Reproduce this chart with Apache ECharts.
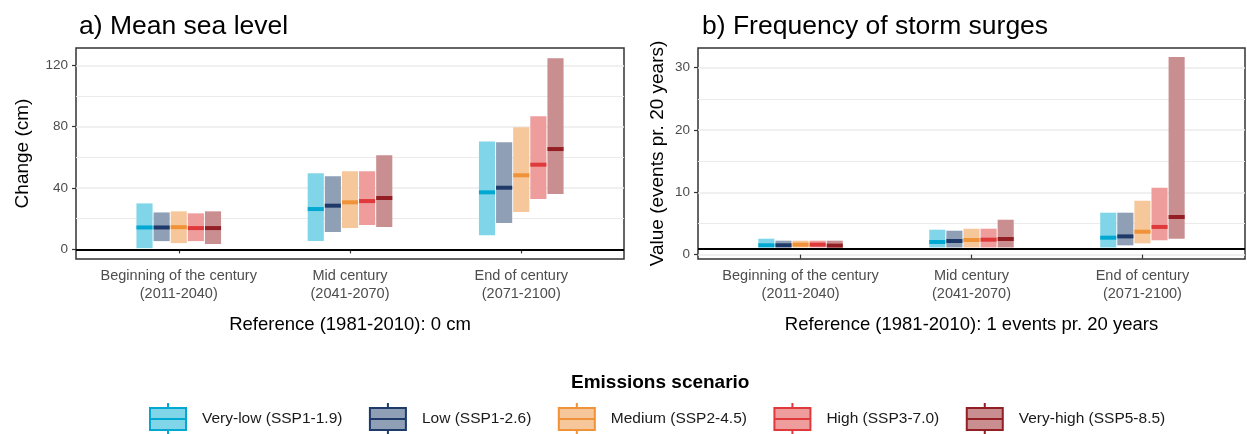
<!DOCTYPE html>
<html>
<head>
<meta charset="utf-8">
<script src="https://cdn.jsdelivr.net/npm/echarts@6/dist/echarts.min.js"></script>
<style>
  html, body { margin: 0; padding: 0; background: #fff; }
  #chart { width: 1247px; height: 434px; }
</style>
</head>
<body>
<div id="chart"></div>
<script>
const periods = ['Beginning of the century\n(2011-2040)', 'Mid century\n(2041-2070)', 'End of century\n(2071-2100)']
const scenarios = ['Very-low (SSP1-1.9)', 'Low (SSP1-2.6)', 'Medium (SSP2-4.5)', 'High (SSP3-7.0)', 'Very-high (SSP5-8.5)']
const fillColors = ['#80d5e9', '#8f9fb6', '#f6c79b', '#ee9c9c', '#c98e90']
const lineColors = ['#00a8d2', '#1d3a6a', '#ef9238', '#e0393b', '#931f24']

// [low, median, high] per period
const seaVeryLow  = [[0.8, 14.3, 30.0], [5.4, 26.3, 49.6], [9.3, 37.2, 70.4]]
const seaLow      = [[5.4, 14.3, 24.1], [11.3, 28.5, 47.6], [17.2, 40.2, 69.8]]
const seaMedium   = [[4.1, 14.5, 24.8], [13.9, 30.7, 50.9], [24.3, 48.3, 79.6]]
const seaHigh     = [[5.4, 13.9, 23.5], [15.9, 31.5, 50.9], [32.8, 55.2, 86.7]]
const seaVeryHigh = [[3.5, 13.9, 24.8], [14.6, 33.5, 61.3], [36.1, 65.4, 124.6]]

const surgeVeryLow  = [[1.15, 1.5, 2.56], [1.15, 2.03, 4.0], [1.15, 2.72, 6.73]]
const surgeLow      = [[1.15, 1.5, 2.24], [1.15, 2.19, 3.84], [1.49, 2.93, 6.73]]
const surgeMedium   = [[1.15, 1.6, 2.24], [1.15, 2.35, 4.16], [1.81, 3.68, 8.65]]
const surgeHigh     = [[1.15, 1.6, 2.24], [1.15, 2.4, 4.16], [2.29, 4.44, 10.73]]
const surgeVeryHigh = [[1.15, 1.45, 2.24], [1.15, 2.51, 5.6], [2.56, 6.04, 31.7]]

const seaData = [seaVeryLow, seaLow, seaMedium, seaHigh, seaVeryHigh]
const surgeData = [surgeVeryLow, surgeLow, surgeMedium, surgeHigh, surgeVeryHigh]

const seaMajorTicks = [0, 40, 80, 120]
const seaMinorTicks = [20, 60, 100]
const surgeMajorTicks = [0, 10, 20, 30]
const surgeMinorTicks = [5, 15, 25]
const referenceValues = [0, 1]

const dodge = [-0.2, -0.1, 0, 0.1, 0.2]
const font = 'Liberation Sans, Arial, sans-serif'

const chart = echarts.init(document.getElementById('chart'))

const renderBar = si => (params, api) => {
  const x = api.value(0) + dodge[si]
  const lo = api.coord([x, api.value(1)])
  const md = api.coord([x, api.value(2)])
  const hi = api.coord([x, api.value(3)])
  const w = api.size([0.1, 0])[0] - 1
  return {
    type: 'group',
    children: [
      { type: 'rect', shape: { x: lo[0] - w / 2, y: hi[1], width: w, height: lo[1] - hi[1] }, style: { fill: fillColors[si] } },
      { type: 'rect', shape: { x: md[0] - w / 2, y: md[1] - 2, width: w, height: 4 }, style: { fill: lineColors[si] } }
    ]
  }
}

const makeSeries = (sets, panel) => sets.map((rows, si) => {
  const s = {
    type: 'custom',
    name: scenarios[si],
    xAxisIndex: panel,
    yAxisIndex: panel * 2,
    renderItem: renderBar(si),
    itemStyle: { color: fillColors[si], borderColor: lineColors[si], borderWidth: 2 },
    encode: { x: 0, y: [1, 2, 3] },
    data: rows.map((r, i) => [i + 1, r[0], r[1], r[2]]),
    z: 3
  }
  if (si === 0) {
    s.markLine = {
      silent: true,
      symbol: 'none',
      label: { show: false },
      lineStyle: { color: '#000', width: 2, type: 'solid' },
      data: [{ yAxis: referenceValues[panel] }]
    }
  }
  return s
})

const xAxisFor = (grid, name) => ({
  type: 'value',
  gridIndex: grid,
  min: 0.4,
  max: 3.6,
  axisLine: { show: false },
  splitLine: { show: false },
  axisTick: { customValues: [1, 2, 3], length: 4, lineStyle: { color: '#333', width: 1.2 } },
  axisLabel: {
    customValues: [1, 2, 3],
    formatter: v => periods[Math.round(v) - 1],
    color: '#4d4d4d', fontSize: 14.5, lineHeight: 18, margin: 8, fontFamily: font
  },
  name: name,
  nameLocation: 'middle',
  nameGap: 56,
  nameTextStyle: { color: '#000', fontSize: 18.5, fontFamily: font }
})

const yMajor = (grid, min, max, ticks, name, gap) => ({
  type: 'value',
  gridIndex: grid,
  min: min,
  max: max,
  axisLine: { show: false },
  axisTick: { customValues: ticks, length: 4, lineStyle: { color: '#333', width: 1.2 } },
  axisLabel: { customValues: ticks, color: '#4d4d4d', fontSize: 13.5, margin: 8, fontFamily: font },
  splitLine: { show: true, lineStyle: { color: '#ebebeb', width: 1.6 } },
  name: name,
  nameLocation: 'middle',
  nameRotate: 90,
  nameGap: gap,
  nameTextStyle: { color: '#000', fontSize: 19, fontFamily: font }
})

const yMinor = (grid, min, max, ticks) => ({
  type: 'value',
  gridIndex: grid,
  position: 'left',
  min: min,
  max: max,
  axisLine: { show: false },
  axisTick: { show: false, customValues: ticks },
  axisLabel: { show: false, customValues: ticks },
  splitLine: { show: true, lineStyle: { color: '#ebebeb', width: 1.2 } }
})

const option = {
  animation: false,
  backgroundColor: '#fff',
  textStyle: { fontFamily: font },
  title: [
    { text: 'a) Mean sea level', left: 74, top: 8, textStyle: { fontSize: 26.5, fontWeight: 'normal', color: '#000', fontFamily: font } },
    { text: 'b) Frequency of storm surges', left: 697, top: 8, textStyle: { fontSize: 26.5, fontWeight: 'normal', color: '#000', fontFamily: font } },
    { text: 'Emissions scenario', left: 566, top: 368, textStyle: { fontSize: 19, fontWeight: 'bold', color: '#000', fontFamily: font } }
  ],
  legend: {
    left: 149,
    top: 402,
    padding: 0,
    itemWidth: 36,
    itemHeight: 32,
    itemGap: 26.5,
    selectedMode: false,
    icon: 'path://M0,5H36V27H0Z M0,16H36 M18,0V5 M18,27V32',
    textStyle: { fontSize: 15.5, color: '#1a1a1a', padding: [6, 0, 0, 11], fontFamily: font },
    data: scenarios.map((n, i) => ({
      name: n,
      itemStyle: { color: fillColors[i], borderColor: lineColors[i], borderWidth: 2 }
    }))
  },
  grid: [
    { left: 76, top: 48, width: 548, height: 211, show: true, borderColor: '#333', borderWidth: 1.5, backgroundColor: '#fff' },
    { left: 698, top: 48, width: 547, height: 211, show: true, borderColor: '#333', borderWidth: 1.5, backgroundColor: '#fff' }
  ],
  xAxis: [
    xAxisFor(0, 'Reference (1981-2010): 0 cm'),
    xAxisFor(1, 'Reference (1981-2010): 1 events pr. 20 years')
  ],
  yAxis: [
    yMajor(0, -6.25, 131.25, seaMajorTicks, 'Change (cm)', 44),
    yMinor(0, -6.25, 131.25, seaMinorTicks),
    yMajor(1, -0.7, 33.15, surgeMajorTicks, 'Value (events pr. 20 years)', 31),
    yMinor(1, -0.7, 33.15, surgeMinorTicks)
  ],
  series: [...makeSeries(seaData, 0), ...makeSeries(surgeData, 1)]
}

chart.setOption(option)
window.addEventListener('resize', () => chart.resize())
</script>
</body>
</html>
